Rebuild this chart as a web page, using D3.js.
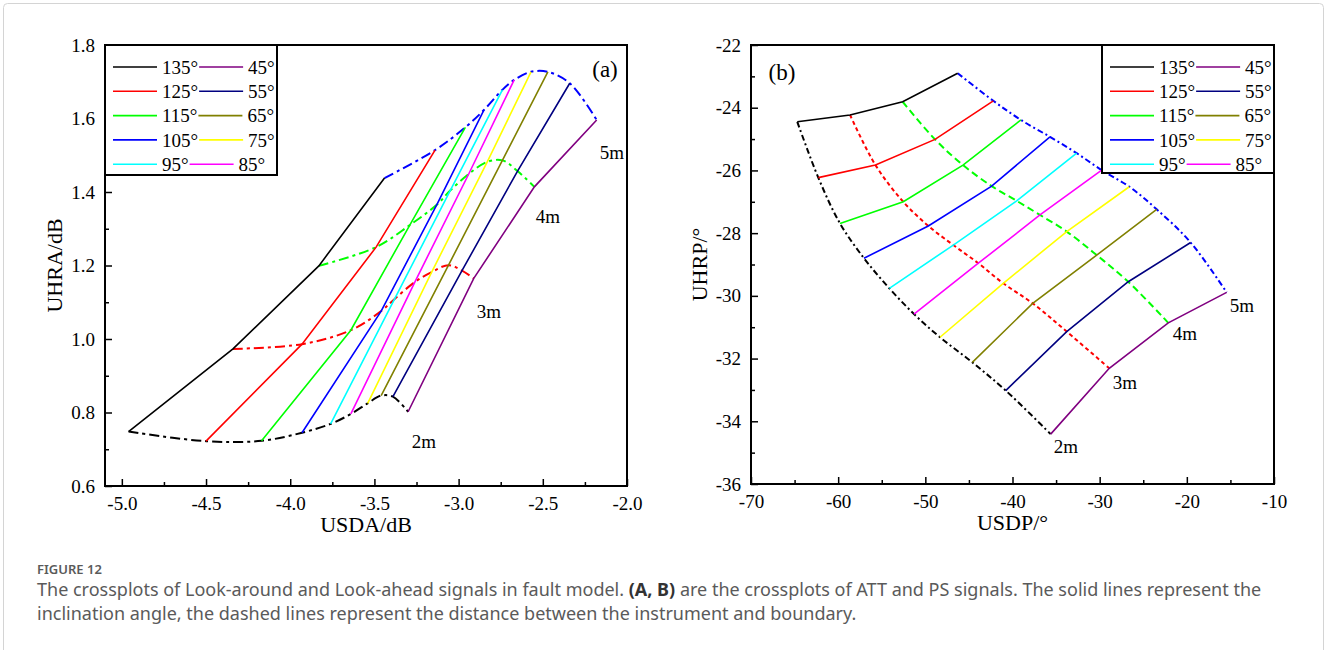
<!DOCTYPE html>
<html>
<head>
<meta charset="utf-8">
<script src="https://cdn.jsdelivr.net/npm/d3@7"></script>
<style>
  body { margin: 0; background: #fff; }
  .serif text { font-family: "Liberation Serif", "Times New Roman", serif; }
</style>
</head>
<body>
<div id="chart"></div>
<script>
// inclination angles and their line colours
const angles = [135, 125, 115, 105, 95, 85, 75, 65, 55, 45];
const angleColors = ["#000000", "#ff0000", "#00ff00", "#0000ff", "#00ffff",
                     "#ff00ff", "#ffff00", "#808000", "#000080", "#800080"];
// instrument-boundary distances
const distances = ["2m", "3m", "4m", "5m"];
const distColors = ["#000000", "#ff0000", "#00ff00", "#0000ff"];

// (a) ATT crossplot, one row per angle, values at 2m,3m,4m,5m
const usdaA = [
  [-4.96, -4.34, -3.83, -3.44],
  [-4.50, -3.93, -3.49, -3.14],
  [-4.17, -3.64, -3.29, -2.96],
  [-3.93, -3.46, -3.13, -2.85],
  [-3.76, -3.38, -3.05, -2.74],
  [-3.64, -3.26, -2.94, -2.67],
  [-3.54, -3.16, -2.83, -2.57],
  [-3.46, -3.06, -2.74, -2.47],
  [-3.39, -2.98, -2.65, -2.34],
  [-3.30, -2.91, -2.55, -2.18]
];
const uhraA = [
  [0.748, 0.973, 1.199, 1.438],
  [0.722, 0.986, 1.250, 1.514],
  [0.723, 1.024, 1.310, 1.576],
  [0.745, 1.076, 1.365, 1.623],
  [0.769, 1.109, 1.404, 1.678],
  [0.796, 1.155, 1.449, 1.705],
  [0.825, 1.182, 1.482, 1.727],
  [0.846, 1.201, 1.486, 1.727],
  [0.843, 1.186, 1.457, 1.696],
  [0.802, 1.165, 1.414, 1.596]
];

// (b) PS crossplot
const usdpB = [
  [-64.69, -58.64, -52.60, -46.29],
  [-62.28, -55.72, -48.89, -42.20],
  [-59.79, -52.53, -45.68, -39.03],
  [-57.04, -49.66, -42.39, -35.70],
  [-54.13, -46.79, -39.52, -32.64],
  [-51.30, -43.92, -36.85, -29.77],
  [-48.32, -41.06, -33.78, -26.60],
  [-44.61, -37.68, -30.34, -23.46],
  [-40.78, -33.78, -26.72, -19.56],
  [-35.62, -28.90, -22.13, -15.43]
];
const uhrpB = [
  [-24.45, -24.23, -23.81, -22.90],
  [-26.23, -25.83, -25.01, -23.78],
  [-27.69, -27.00, -25.83, -24.39],
  [-28.80, -27.77, -26.50, -24.93],
  [-29.76, -28.38, -26.97, -25.45],
  [-30.58, -28.96, -27.42, -25.99],
  [-31.32, -29.60, -27.95, -26.52],
  [-32.12, -30.24, -28.70, -27.24],
  [-33.02, -31.14, -29.55, -28.30],
  [-34.41, -32.31, -30.86, -29.89]
];

// axis ticks
const xTicksA = [-5.0, -4.5, -4.0, -3.5, -3.0, -2.5, -2.0];
const yTicksA = [0.6, 0.8, 1.0, 1.2, 1.4, 1.6, 1.8];
const xTicksB = [-70, -60, -50, -40, -30, -20, -10];
const yTicksB = [-36, -34, -32, -30, -28, -26, -24, -22];

const SERIF = '"Liberation Serif", "Times New Roman", serif';

const svg = d3.select("#chart").append("svg")
  .attr("width", 1328)
  .attr("height", 650);

// page border
svg.append("rect")
  .attr("x", 3.5).attr("y", 3.5)
  .attr("width", 1320).attr("height", 680)
  .attr("rx", 4)
  .attr("fill", "none")
  .attr("stroke", "#d4d4d4");

function drawPanel(p) {
  const g = svg.append("g").attr("class", "serif");
  const x = d3.scaleLinear().domain(p.xDomain).range([p.left, p.right]);
  const y = d3.scaleLinear().domain(p.yDomain).range([p.bottom, p.top]);

  // minor + major ticks, inward
  const minorX = d3.range(p.xTicks.length - 1).map(i => (p.xTicks[i] + p.xTicks[i + 1]) / 2);
  const minorY = d3.range(p.yTicks.length - 1).map(i => (p.yTicks[i] + p.yTicks[i + 1]) / 2);

  g.append("g")
    .attr("transform", `translate(0,${p.bottom})`)
    .call(d3.axisBottom(x).tickValues(minorX).tickSizeInner(-4).tickSizeOuter(0).tickFormat(""))
    .call(a => a.select(".domain").remove());
  g.append("g")
    .attr("transform", `translate(${p.left},0)`)
    .call(d3.axisLeft(y).tickValues(minorY).tickSizeInner(-4).tickSizeOuter(0).tickFormat(""))
    .call(a => a.select(".domain").remove());

  const xa = g.append("g")
    .attr("transform", `translate(0,${p.bottom})`)
    .call(d3.axisBottom(x).tickValues(p.xTicks).tickSizeInner(-7).tickSizeOuter(0)
      .tickPadding(11).tickFormat(p.xFmt));
  xa.select(".domain").remove();
  xa.selectAll("text").style("font-family", SERIF).style("font-size", "19px");

  const ya = g.append("g")
    .attr("transform", `translate(${p.left},0)`)
    .call(d3.axisLeft(y).tickValues(p.yTicks).tickSizeInner(-7).tickSizeOuter(0)
      .tickPadding(10).tickFormat(p.yFmt));
  ya.select(".domain").remove();
  ya.selectAll("text").style("font-family", SERIF).style("font-size", "19px");
  g.selectAll(".tick line").attr("stroke-width", 1.5);

  // dashed distance curves
  const curve = d3.line().x(d => x(d[0])).y(d => y(d[1])).curve(d3.curveCatmullRom.alpha(0.5));
  distances.forEach((dist, j) => {
    const pts = angles.map((a, i) => [p.xs[i][j], p.ys[i][j]]);
    g.append("path")
      .attr("d", curve(pts))
      .attr("fill", "none")
      .attr("stroke", distColors[j])
      .attr("stroke-width", 2)
      .attr("stroke-dasharray", p.dashes[j]);
  });

  // solid angle lines
  const line = d3.line().x(d => x(d[0])).y(d => y(d[1]));
  angles.forEach((a, i) => {
    const pts = distances.map((d, j) => [p.xs[i][j], p.ys[i][j]]);
    g.append("path")
      .attr("d", line(pts))
      .attr("fill", "none")
      .attr("stroke", angleColors[i])
      .attr("stroke-width", 1.6);
  });

  // frame
  g.append("rect")
    .attr("x", p.left).attr("y", p.top)
    .attr("width", p.right - p.left).attr("height", p.bottom - p.top)
    .attr("fill", "none").attr("stroke", "#000").attr("stroke-width", 2);

  // legend
  const lg = g.append("g");
  lg.append("rect")
    .attr("x", p.legend.x0).attr("y", p.top)
    .attr("width", p.legend.x1 - p.legend.x0).attr("height", p.legend.y1 - p.top)
    .attr("fill", "#fff").attr("stroke", "#000").attr("stroke-width", 2);
  for (let r = 0; r < 5; r++) {
    const ry = p.top + 22 + r * 24.3;
    let cx = p.legend.x0 + 8;
    [r, 9 - r].forEach(i => {
      lg.append("line")
        .attr("x1", cx).attr("x2", cx + 44)
        .attr("y1", ry).attr("y2", ry)
        .attr("stroke", angleColors[i]).attr("stroke-width", 1.6);
      const t = lg.append("text")
        .attr("x", cx + 49).attr("y", ry).attr("dy", "0.35em")
        .attr("font-size", 19)
        .text(angles[i] + "°");
      cx = cx + 49 + t.node().getComputedTextLength() + 1;
    });
  }

  // panel tag and distance labels
  g.append("text").attr("x", p.tag[0]).attr("y", p.tag[1])
    .attr("font-size", 23).attr("text-anchor", "middle").text(p.tag[2]);
  p.distLabels.forEach((pos, j) => {
    g.append("text").attr("x", pos[0]).attr("y", pos[1])
      .attr("font-size", 19).attr("text-anchor", "middle").text(distances[j]);
  });

  // axis titles
  g.append("text")
    .attr("x", (p.left + p.right) / 2).attr("y", p.bottom + 46)
    .attr("font-size", 22).attr("text-anchor", "middle").text(p.xTitle);
  g.append("text")
    .attr("transform", `translate(${p.yTitleX},${(p.top + p.bottom) / 2}) rotate(-90)`)
    .attr("font-size", 22).attr("text-anchor", "middle").text(p.yTitle);
}

drawPanel({
  left: 105, right: 627, top: 45, bottom: 486,
  xDomain: [-5.1, -2.0], yDomain: [0.6, 1.8],
  xTicks: xTicksA, yTicks: yTicksA,
  xFmt: d => d.toFixed(1), yFmt: d => d.toFixed(1),
  xs: usdaA, ys: uhraA,
  dashes: ["10,4,3,4", "10,4,3,4", "10,4,3,4", "10,4,3,4"],
  legend: { x0: 105, x1: 277, y1: 175 },
  tag: [605, 77, "(a)"],
  distLabels: [[424, 448], [489, 318], [548, 223], [612, 159]],
  xTitle: "USDA/dB", yTitle: "UHRA/dB", yTitleX: 62
});

drawPanel({
  left: 751, right: 1274, top: 45, bottom: 484,
  xDomain: [-70, -10], yDomain: [-36, -22],
  xTicks: xTicksB, yTicks: yTicksB,
  xFmt: d => String(d), yFmt: d => String(d),
  xs: usdpB, ys: uhrpB,
  dashes: ["6,3,2,3", "4,3", "7,4", "6,3,2,3"],
  legend: { x0: 1102, x1: 1274, y1: 173 },
  tag: [782, 80, "(b)"],
  distLabels: [[1066, 453], [1125, 389], [1185, 340], [1242, 312]],
  xTitle: "USDP/°", yTitle: "UHRP/°", yTitleX: 707
});

// caption
const cap = svg.append("g").attr("font-family", "'Noto Sans', 'Open Sans', sans-serif").attr("fill", "#5a5a5a");
cap.append("text").attr("x", 37).attr("y", 574).attr("font-size", 13).attr("font-weight", 600)
  .text("FIGURE 12");
const l1 = cap.append("text").attr("x", 37).attr("y", 596).attr("font-size", 18);
l1.append("tspan").text("The crossplots of Look-around and Look-ahead signals in fault model. ");
l1.append("tspan").attr("font-weight", 700).attr("fill", "#333").text("(A, B)");
l1.append("tspan").text(" are the crossplots of ATT and PS signals. The solid lines represent the");
cap.append("text").attr("x", 37).attr("y", 620).attr("font-size", 18)
  .text("inclination angle, the dashed lines represent the distance between the instrument and boundary.");
</script>
</body>
</html>
